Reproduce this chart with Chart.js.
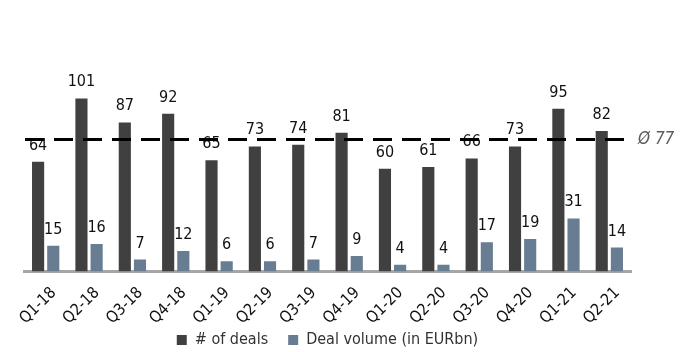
<!DOCTYPE html>
<html>
<head>
<meta charset="utf-8">
<script src="https://cdn.jsdelivr.net/npm/chart.js@4/dist/chart.umd.min.js"></script>
<style>
  html, body { margin: 0; padding: 0; background: #ffffff; }
  #wrap { width: 690px; height: 352px; }
</style>
</head>
<body>
<div id="wrap"><canvas id="chart" width="690" height="352"></canvas></div>
<script>
const quarters = ['Q1-18', 'Q2-18', 'Q3-18', 'Q4-18', 'Q1-19', 'Q2-19', 'Q3-19', 'Q4-19',
                  'Q1-20', 'Q2-20', 'Q3-20', 'Q4-20', 'Q1-21', 'Q2-21'];
const dealCounts = [64, 101, 87, 92, 65, 73, 74, 81, 60, 61, 66, 73, 95, 82];
const dealVolumes = [15, 16, 7, 12, 6, 6, 7, 9, 4, 4, 17, 19, 31, 14];
const seriesNames = ['# of deals', 'Deal volume (in EURbn)'];

// Quarterly average of the deal count, shown as a dashed reference line
const averageDeals = Math.round(dealCounts.reduce((a, b) => a + b, 0) / dealCounts.length);

const FONT = "'DejaVu Sans Condensed', 'Open Sans', sans-serif";

// Value labels above every bar
const valueLabels = {
  id: 'valueLabels',
  afterDatasetsDraw(chart) {
    const ctx = chart.ctx;
    ctx.save();
    ctx.font = `16px ${FONT}`;
    ctx.fillStyle = '#111111';
    ctx.textAlign = 'center';
    ctx.textBaseline = 'alphabetic';
    chart.data.datasets.forEach((ds, di) => {
      const meta = chart.getDatasetMeta(di);
      meta.data.forEach((bar, i) => {
        ctx.fillText(String(ds.data[i]), bar.x, bar.y - 12);
      });
    });
    ctx.restore();
  }
};

// Dashed average line across the plot with its "Ø" label on the right
const averageLine = {
  id: 'averageLine',
  afterDraw(chart) {
    const { ctx, chartArea } = chart;
    const y = chart.scales.y.getPixelForValue(averageDeals);
    ctx.save();
    ctx.strokeStyle = '#000000';
    ctx.lineWidth = 3;
    ctx.setLineDash([19, 10]);
    ctx.beginPath();
    ctx.moveTo(chartArea.left + 1, y);
    ctx.lineTo(chartArea.right - 2, y);
    ctx.stroke();
    ctx.setLineDash([]);
    ctx.font = `italic 17px ${FONT}`;
    ctx.fillStyle = '#5e5e5e';
    ctx.textAlign = 'left';
    ctx.textBaseline = 'middle';
    ctx.fillText('Ø ' + averageDeals, chartArea.right + 7, y);
    ctx.restore();
  }
};

// Let the legend row sit tucked up under the slanted quarter labels
const legendLift = {
  id: 'legendLift',
  afterLayout(chart) {
    const lift = 14.5;
    chart.legend.top -= lift;
    chart.legend.bottom -= lift;
  }
};

new Chart(document.getElementById('chart'), {
  type: 'bar',
  data: {
    labels: quarters,
    datasets: [
      {
        label: seriesNames[0],
        data: dealCounts,
        backgroundColor: '#404040',
        borderWidth: 0,
        categoryPercentage: 0.7,
        barPercentage: 0.8
      },
      {
        label: seriesNames[1],
        data: dealVolumes,
        backgroundColor: '#687d92',
        borderWidth: 0,
        categoryPercentage: 0.7,
        barPercentage: 0.8
      }
    ]
  },
  options: {
    responsive: false,
    animation: false,
    devicePixelRatio: 1,
    layout: { padding: { left: 24, right: 59, top: 14.5, bottom: -20.5 } },
    scales: {
      x: {
        grid: { display: false, drawTicks: false },
        border: { display: true, color: '#a6a6a6', width: 3 },
        ticks: {
          autoSkip: false,
          minRotation: 45,
          maxRotation: 45,
          padding: 12,
          labelOffset: 8,
          color: '#111111',
          font: { family: FONT, size: 16 }
        },
        afterFit(scale) { scale.height = 55; }
      },
      y: {
        display: false,
        min: 0,
        max: 150
      }
    },
    plugins: {
      legend: {
        position: 'bottom',
        labels: {
          boxWidth: 10,
          boxHeight: 10,
          padding: 20,
          color: '#333333',
          font: { family: FONT, size: 16 }
        }
      },
      tooltip: { enabled: false }
    }
  },
  plugins: [valueLabels, averageLine, legendLift]
});
</script>
</body>
</html>
